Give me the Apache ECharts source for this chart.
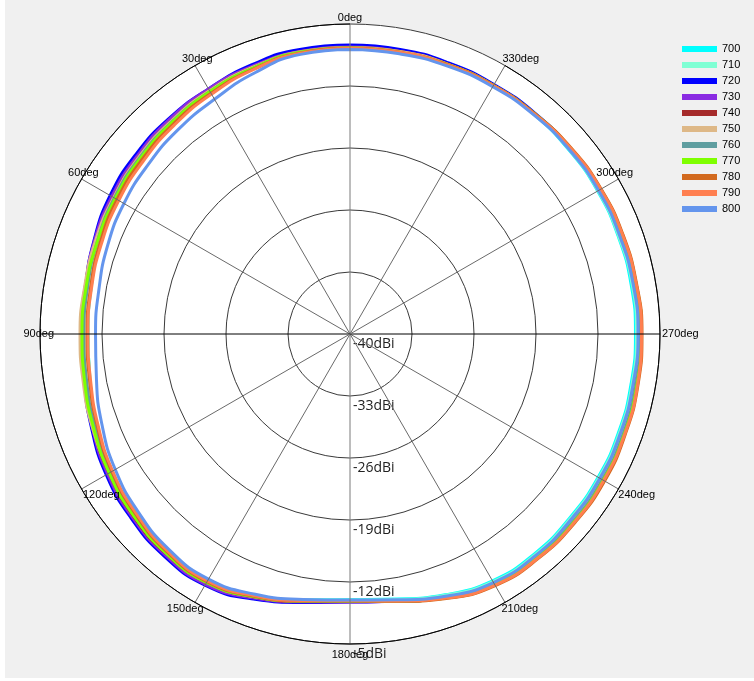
<!DOCTYPE html>
<html><head><meta charset="utf-8">
<script src="https://cdn.jsdelivr.net/npm/echarts@6/dist/echarts.min.js"></script>
<style>
html,body{margin:0;padding:0;background:#fff;}
#bg{position:absolute;left:5px;top:0;width:749px;height:678px;background:#f0f0f0;}
#chart{position:absolute;left:0;top:0;width:754px;height:681px;}
</style></head><body>
<div id="bg"></div><div id="chart"></div>
<script>
// Angles (deg) at which the pattern is sampled
const angleDeg = [0,10,20,30,40,50,60,70,80,90,100,110,120,130,140,150,160,170,180,190,200,210,220,230,240,250,260,270,280,290,300,310,320,330,340,350];
// Series names (frequency) and colours
const seriesNames = ['700','710','720','730','740','750','760','770','780','790','800'];
const seriesColors = ['#00ffff','#7fffd4','#0000ff','#8a2be2','#a52a2a','#deb887','#5f9ea0','#7fff00','#d2691e','#ff7f50','#6495ed'];
// Gain values (dBi) per series
const v700 = [-7.43,-7.54,-7.99,-8.50,-8.89,-9.29,-9.63,-9.97,-10.31,-10.42,-10.19,-9.63,-8.95,-8.39,-7.94,-7.82,-8.61,-9.52,-10.02,-9.63,-8.67,-7.82,-7.60,-7.65,-7.65,-7.71,-7.77,-7.77,-7.77,-7.77,-7.71,-7.71,-7.65,-7.60,-7.54,-7.48];
const v710 = [-7.43,-7.54,-7.99,-8.50,-8.89,-9.29,-9.63,-9.97,-10.31,-10.42,-10.19,-9.63,-8.95,-8.39,-7.94,-7.82,-8.61,-9.52,-9.97,-9.57,-8.61,-7.71,-7.48,-7.54,-7.54,-7.60,-7.65,-7.65,-7.65,-7.71,-7.65,-7.65,-7.60,-7.54,-7.48,-7.48];
const v720 = [-7.37,-7.37,-7.65,-8.05,-8.22,-8.44,-8.73,-9.23,-9.69,-9.85,-9.57,-8.95,-8.22,-7.71,-7.31,-7.26,-8.16,-9.23,-9.74,-9.35,-8.39,-7.48,-7.26,-7.26,-7.26,-7.31,-7.37,-7.37,-7.43,-7.48,-7.48,-7.48,-7.48,-7.48,-7.43,-7.37];
const v730 = [-7.60,-7.60,-7.82,-8.05,-8.33,-8.67,-8.95,-9.29,-9.69,-9.85,-9.63,-9.06,-8.39,-7.88,-7.48,-7.37,-8.27,-9.29,-9.74,-9.35,-8.39,-7.48,-7.20,-7.15,-7.15,-7.26,-7.37,-7.37,-7.43,-7.48,-7.48,-7.54,-7.60,-7.60,-7.60,-7.60];
const v740 = [-7.65,-7.65,-7.94,-8.27,-8.61,-8.89,-9.18,-9.46,-9.63,-9.63,-9.52,-9.12,-8.61,-8.05,-7.65,-7.60,-8.39,-9.35,-9.85,-9.40,-8.33,-7.37,-7.15,-7.15,-7.15,-7.20,-7.26,-7.26,-7.31,-7.37,-7.43,-7.54,-7.60,-7.60,-7.60,-7.60];
const v750 = [-7.65,-7.65,-7.94,-8.27,-8.61,-8.89,-9.18,-9.40,-9.57,-9.52,-9.40,-9.06,-8.73,-8.16,-7.71,-7.60,-8.44,-9.40,-9.85,-9.40,-8.33,-7.37,-7.15,-7.15,-7.15,-7.20,-7.20,-7.20,-7.31,-7.37,-7.37,-7.48,-7.60,-7.60,-7.60,-7.60];
const v760 = [-7.71,-7.71,-8.05,-8.39,-8.73,-9.01,-9.29,-9.63,-9.91,-9.97,-9.80,-9.35,-8.73,-8.16,-7.71,-7.60,-8.44,-9.40,-9.85,-9.40,-8.33,-7.37,-7.15,-7.09,-7.09,-7.15,-7.20,-7.20,-7.31,-7.37,-7.37,-7.48,-7.60,-7.60,-7.65,-7.71];
const v770 = [-7.71,-7.71,-8.05,-8.39,-8.78,-9.12,-9.40,-9.63,-9.74,-9.74,-9.57,-9.18,-8.61,-8.10,-7.71,-7.60,-8.44,-9.40,-9.85,-9.40,-8.27,-7.31,-7.03,-6.98,-6.98,-7.03,-7.09,-7.09,-7.20,-7.26,-7.31,-7.43,-7.54,-7.60,-7.65,-7.71];
const v780 = [-7.71,-7.77,-8.16,-8.61,-9.01,-9.35,-9.63,-9.97,-10.25,-10.31,-10.14,-9.63,-8.95,-8.39,-7.88,-7.71,-8.50,-9.40,-9.85,-9.35,-8.22,-7.20,-6.92,-6.86,-6.81,-6.92,-6.98,-7.03,-7.15,-7.20,-7.26,-7.37,-7.54,-7.60,-7.65,-7.71];
const v790 = [-7.77,-7.82,-8.22,-8.73,-9.18,-9.57,-9.85,-10.14,-10.36,-10.42,-10.25,-9.74,-9.06,-8.50,-7.99,-7.82,-8.56,-9.46,-9.91,-9.40,-8.27,-7.26,-6.98,-6.92,-6.92,-6.98,-7.03,-7.09,-7.20,-7.26,-7.31,-7.43,-7.60,-7.65,-7.71,-7.71];
const v800 = [-7.88,-7.94,-8.61,-9.40,-9.85,-10.25,-10.53,-10.87,-11.21,-11.27,-10.93,-10.19,-9.40,-8.78,-8.22,-8.05,-8.73,-9.57,-9.97,-9.52,-8.50,-7.60,-7.37,-7.43,-7.43,-7.48,-7.54,-7.48,-7.54,-7.60,-7.60,-7.65,-7.71,-7.77,-7.82,-7.88];
// Radial tick labels (dBi)
const radiusTicks = [-40,-33,-26,-19,-12,-5];
// Angle tick labels (every 30 deg, counter-clockwise from top)
const angleLabels = ['0deg','30deg','60deg','90deg','120deg','150deg','180deg','210deg','240deg','270deg','300deg','330deg'];
// Per-label text padding [top,right,bottom,left] to nudge each label like the reference
const angleLabelPadding = [[0,0,0,0],[0,-18,0,0],[0,-18,0,0],[0,-15,0,0],[0,-39,0,0],[0,-9,0,0],[4,0,0,0],[0,0,0,-4],[0,0,0,-1],[0,0,0,1],[0,0,0,-23],[0,0,0,-3]];

const seriesValues = [v700,v710,v720,v730,v740,v750,v760,v770,v780,v790,v800];

// The radius axis of polar 0 is drawn along its startAngle (pointing down), so angle values are shifted by 180.
function toAxisAngle(d){ return (d + 180) % 360; }

const chart = echarts.init(document.getElementById('chart'), null, {renderer:'canvas'});
const option = {
  animation: false,
  backgroundColor: 'transparent',
  legend: {
    orient: 'vertical',
    left: 682, top: 43, padding: 0,
    icon: 'rect', itemWidth: 35, itemHeight: 6, itemGap: 4,
    textStyle: {fontFamily:'Liberation Sans', fontSize: 11, color:'#000', lineHeight: 12},
    data: seriesNames
  },
  polar: [
    { center: [350, 334], radius: 310 },
    { center: [350, 334], radius: 310 }
  ],
  angleAxis: [
    {
      polarIndex: 0,
      type: 'value', min: 0, max: 360, interval: 30,
      startAngle: 270, clockwise: false,
      axisLine: {show:false}, axisTick: {show:false}, axisLabel: {show:false},
      splitLine: {show:false}, splitArea: {show:false}
    },
    {
      polarIndex: 1,
      type: 'category', boundaryGap: false,
      startAngle: 90, clockwise: false,
      data: angleLabels.map((t, i) => ({value: t, textStyle: {padding: angleLabelPadding[i]}})),
      axisLine: {show:true, lineStyle:{color:'#000', width:1}},
      axisTick: {show:false},
      axisLabel: {show:true, interval: 0, margin: 1, fontFamily:'Liberation Sans', fontSize: 11, color:'#000'},
      splitLine: {show:true, interval: 0, lineStyle:{color:['#7a7a7a','#6a6a6a','#6a6a6a','#000','#6a6a6a','#6a6a6a'], width:1}},
      z: 5
    }
  ],
  radiusAxis: [
    {
      polarIndex: 0,
      type: 'value', min: radiusTicks[0], max: radiusTicks[radiusTicks.length-1], interval: 7,
      axisLine: {show:false}, axisTick: {show:false},
      axisLabel: {show:true, margin: 3, fontFamily:'Open Sans', fontSize: 14, color:'#222',
        verticalAlign: 'top', padding: [3,0,0,0], formatter: v => v + 'dBi'},
      splitLine: {show:true, lineStyle:{color:'#3a3a3a', width:1}},
      splitArea: {show:false},
      z: 1
    },
    {
      polarIndex: 1, type: 'value',
      min: radiusTicks[0], max: radiusTicks[radiusTicks.length-1], interval: 7,
      axisLine: {show:false}, axisTick: {show:false}, axisLabel: {show:false},
      splitLine: {show:false},
      splitArea: {show:true, areaStyle:{color:['#ffffff']}},
      z: 0
    }
  ],
  series: seriesNames.map((n, i) => {
    const vals = seriesValues[i].concat([seriesValues[i][0]]);
    const angs = angleDeg.concat([360]);
    return {
      name: n, type: 'line', coordinateSystem: 'polar', polarIndex: 0,
      showSymbol: false, symbol: 'none', smooth: 0.5,
      lineStyle: {width: 3, color: seriesColors[i]},
      itemStyle: {color: seriesColors[i]},
      z: 2,
      data: vals.map((v, j) => [v, toAxisAngle(angs[j])])
    };
  })
};
chart.setOption(option);
</script>
</body></html>
